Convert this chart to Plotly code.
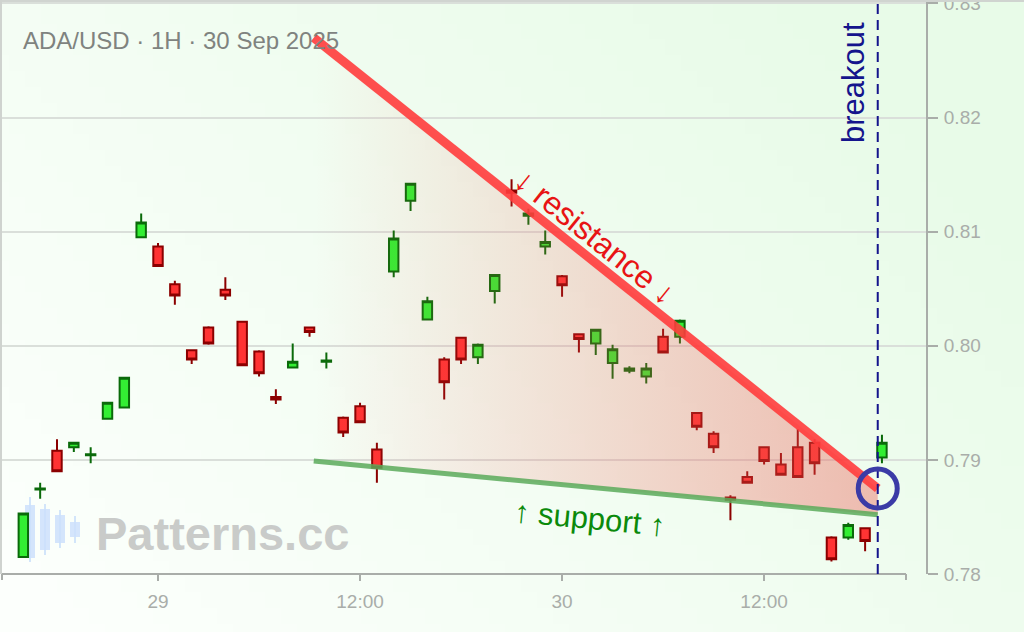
import plotly.graph_objects as go
import pandas as pd
import zlib, struct, base64

# ---------------- data ----------------
start_time = '2025-09-28 16:00'
opens = [0.7815, 0.7874, 0.7908, 0.7911, 0.7904, 0.7936, 0.7946, 0.8095, 0.8087, 0.8054,
         0.7996, 0.8016, 0.8049, 0.8021, 0.7995, 0.7955, 0.7981, 0.8016, 0.7986, 0.7937,
         0.7947, 0.7909, 0.8065, 0.8127, 0.8023, 0.7988, 0.8007, 0.7990, 0.8048, 0.8136,
         0.8114, 0.8087, 0.8061, 0.8010, 0.8002, 0.7985, 0.7978, 0.7973, 0.8008, 0.8008,
         0.7941, 0.7923, 0.7867, 0.7885, 0.7911, 0.7896, 0.7911, 0.7915, 0.7832, 0.7832,
         0.7840, 0.7902]
highs = [0.7854, 0.7880, 0.7918, 0.7915, 0.7911, 0.7950, 0.7972, 0.8116, 0.8090, 0.8057,
         0.7997, 0.8017, 0.8060, 0.8022, 0.7996, 0.7962, 0.8002, 0.8016, 0.7994, 0.7938,
         0.7950, 0.7915, 0.8101, 0.8142, 0.8043, 0.7990, 0.8008, 0.8002, 0.8063, 0.8146,
         0.8120, 0.8101, 0.8062, 0.8011, 0.8015, 0.8001, 0.7982, 0.7985, 0.8015, 0.8023,
         0.7942, 0.7925, 0.7869, 0.7890, 0.7912, 0.7906, 0.7927, 0.7918, 0.7833, 0.7845,
         0.7841, 0.7922]
lows = [0.7815, 0.7866, 0.7890, 0.7907, 0.7897, 0.7936, 0.7946, 0.8095, 0.8069, 0.8036,
        0.7984, 0.8001, 0.8040, 0.7982, 0.7973, 0.7949, 0.7980, 0.8008, 0.7980, 0.7920,
        0.7933, 0.7880, 0.8060, 0.8118, 0.8023, 0.7953, 0.7984, 0.7984, 0.8037, 0.8122,
        0.8106, 0.8080, 0.8043, 0.7994, 0.7992, 0.7971, 0.7976, 0.7967, 0.7994, 0.8002,
        0.7926, 0.7906, 0.7847, 0.7879, 0.7896, 0.7886, 0.7885, 0.7887, 0.7811, 0.7830,
        0.7820, 0.7897]
closes = [0.7853, 0.7875, 0.7890, 0.7915, 0.7905, 0.7950, 0.7972, 0.8108, 0.8070, 0.8044,
          0.7988, 0.8002, 0.8044, 0.7983, 0.7976, 0.7953, 0.7986, 0.8012, 0.7987, 0.7924,
          0.7933, 0.7893, 0.8094, 0.8142, 0.8039, 0.7968, 0.7988, 0.8001, 0.8062, 0.8134,
          0.8116, 0.8091, 0.8053, 0.8006, 0.8014, 0.7997, 0.7980, 0.7980, 0.7994, 0.8022,
          0.7929, 0.7911, 0.7865, 0.7880, 0.7899, 0.7887, 0.7885, 0.7897, 0.7813, 0.7843,
          0.7829, 0.7915]

pattern_times = ['2025-09-29 09:15', '2025-09-30 18:45']
resistance = [0.8270, 0.7875]
support = [0.7899, 0.7852]
breakout_time = '2025-09-30 18:45'
breakout_price = 0.7875

x_tickvals = ['2025-09-29 00:00', '2025-09-29 12:00', '2025-09-30 00:00', '2025-09-30 12:00']
x_ticktext = ['29', '12:00', '30', '12:00']
x_range = ['2025-09-28 14:44', '2025-09-30 21:37']
y_range = [0.78, 0.8303]

title_text = 'ADA/USD · 1H · 30 Sep 2025'

times = pd.date_range(start_time, periods=len(opens), freq='h')

# ---------------- layout geometry ----------------
W, H = 1024, 632
ML, MR, MT, MB = 2, 98, 0, 58
PW, PH = W - ML - MR, H - MT - MB


def px(xp):
    return (xp - ML) / PW


def py(yp):
    return 1 - (yp - MT) / PH


# ---------------- background gradient image ----------------
def gradient_png(w, h):
    c0 = (252, 255, 252)
    c1 = (232, 251, 232)
    raw = bytearray()
    for j in range(h):
        raw.append(0)
        v = j / (h - 1)
        for i in range(w):
            u = i / (w - 1)
            t = min(1.0, max(0.0, 0.75 * u + 0.45 * (1 - v) - 0.05))
            for k in range(3):
                raw.append(int(round(c0[k] + (c1[k] - c0[k]) * t)))

    def chunk(tag, data):
        return struct.pack('>I', len(data)) + tag + data + struct.pack('>I', zlib.crc32(tag + data) & 0xffffffff)
    png = b'\x89PNG\r\n\x1a\n'
    png += chunk(b'IHDR', struct.pack('>IIBBBBB', w, h, 8, 2, 0, 0, 0))
    png += chunk(b'IDAT', zlib.compress(bytes(raw), 9))
    png += chunk(b'IEND', b'')
    return 'data:image/png;base64,' + base64.b64encode(png).decode()


fig = go.Figure()

# wedge fill
fig.add_trace(go.Scatter(
    x=[pattern_times[0], pattern_times[1], pattern_times[1], pattern_times[0], pattern_times[0]],
    y=[resistance[0], resistance[1], support[1], support[0], resistance[0]],
    mode='lines', line=dict(width=0), fill='toself',
    fillgradient=dict(type='horizontal',
                      colorscale=[[0, 'rgba(240,90,80,0)'], [1, 'rgba(236,90,80,0.4)']]),
    hoverinfo='skip', showlegend=False))

# support / resistance lines
fig.add_trace(go.Scatter(x=pattern_times, y=support, mode='lines',
                         line=dict(color='rgba(90,170,90,0.85)', width=5),
                         hoverinfo='skip', showlegend=False))
fig.add_trace(go.Scatter(x=pattern_times, y=resistance, mode='lines',
                         line=dict(color='rgba(255,60,60,0.9)', width=9),
                         hoverinfo='skip', showlegend=False))

# candles
fig.add_trace(go.Candlestick(
    x=times, open=opens, high=highs, low=lows, close=closes,
    increasing=dict(line=dict(color='#0a6a0a', width=2), fillcolor='#33ee33'),
    decreasing=dict(line=dict(color='#8b0000', width=2), fillcolor='#ff3333'),
    whiskerwidth=0, showlegend=False))

shapes = []
axis_col = '#a9ada9'
shapes.append(dict(type='line', xref='paper', yref='paper', x0=px(2), x1=px(906), y0=0, y1=0,
                   line=dict(color=axis_col, width=2), layer='above'))
for xe in (2, 906):
    shapes.append(dict(type='line', xref='paper', yref='paper', x0=px(xe), x1=px(xe),
                       y0=0, y1=py(580), line=dict(color=axis_col, width=2), layer='above'))
shapes.append(dict(type='line', xref='paper', yref='paper', x0=px(0), x1=px(1024), y0=py(1), y1=py(1),
                   line=dict(color='#d0d4d0', width=2), layer='above'))
shapes.append(dict(type='line', xref='paper', yref='paper', x0=px(1), x1=px(1), y0=py(0), y1=0,
                   line=dict(color='#cfd3cf', width=2), layer='above'))

# watermark logo candles
logo = [(30, 505, 558, 497, 562), (45, 509, 550, 504, 555), (60, 515, 543, 510, 548), (75, 522, 537, 516, 543)]
for cx, bt, bb, wt, wb in logo:
    shapes.append(dict(type='line', xref='paper', yref='paper', x0=px(cx), x1=px(cx), y0=py(wt), y1=py(wb),
                       line=dict(color='rgba(200,222,250,0.8)', width=2), layer='between'))
    shapes.append(dict(type='rect', xref='paper', yref='paper', x0=px(cx - 5), x1=px(cx + 5), y0=py(bt), y1=py(bb),
                       fillcolor='rgba(205,225,252,0.85)', line=dict(width=0), layer='between'))

# breakout dashed line
shapes.append(dict(type='line', xref='x', yref='paper', x0=breakout_time, x1=breakout_time, y0=0, y1=1,
                   line=dict(color='#14148c', width=2, dash='10px,6px'), layer='above'))
# breakout circle
shapes.append(dict(type='circle', xref='x', yref='y', xsizemode='pixel', ysizemode='pixel',
                   xanchor=breakout_time, yanchor=breakout_price,
                   x0=-19.5, x1=19.5, y0=-19.5, y1=19.5,
                   line=dict(color='#3b3ba6', width=5), fillcolor='rgba(0,0,0,0)', layer='above'))

FONT = 'Liberation Sans, Arial'
annotations = [
    dict(text=title_text, xref='paper', yref='paper', x=px(21), y=py(41), xanchor='left', yanchor='middle',
         showarrow=False, font=dict(family=FONT, size=24, color='#7f837f')),
    dict(text='↓ resistance ↓', xref='x', yref='y', x='2025-09-30 01:58', y=0.8095, textangle=38.7,
         xanchor='center', yanchor='middle',
         showarrow=False, font=dict(family=FONT, size=32, color='#e81414')),
    dict(text='↑ support ↑', xref='x', yref='y', x='2025-09-30 01:40', y=0.7849, textangle=5.5,
         xanchor='center', yanchor='middle',
         showarrow=False, font=dict(family=FONT, size=31, color='#0b8a0b')),
    dict(text='breakout', xref='x', yref='paper', x='2025-09-30 17:17', y=py(83), textangle=-90,
         xanchor='center', yanchor='middle',
         showarrow=False, font=dict(family=FONT, size=31, color='#14148c')),
    dict(text='<b>Patterns.cc</b>', xref='paper', yref='paper', x=px(94), y=py(533), xanchor='left',
         yanchor='middle', showarrow=False,
         font=dict(family=FONT, size=47, color='#c9cbc9')),
]

fig.update_layout(
    width=W, height=H,
    margin=dict(l=ML, r=MR, t=MT, b=MB, autoexpand=False),
    paper_bgcolor='#eefbee', plot_bgcolor='rgba(0,0,0,0)',
    images=[dict(source=gradient_png(64, 40), xref='paper', yref='paper',
                 x=px(0), y=py(0), sizex=W / PW, sizey=H / PH, xanchor='left', yanchor='top',
                 sizing='stretch', layer='below')],
    boxgap=0.2,
    showlegend=False,
    shapes=shapes,
    annotations=annotations,
    xaxis=dict(type='date', range=x_range, rangeslider=dict(visible=False),
               showgrid=False, zeroline=False, showline=False, automargin=False,
               tickmode='array', tickvals=x_tickvals, ticktext=x_ticktext,
               ticks='outside', ticklen=6, tickwidth=2, tickcolor=axis_col,
               ticklabelstandoff=4,
               tickfont=dict(family=FONT, size=19, color='#a9ada9')),
    yaxis=dict(range=y_range, side='right', dtick=0.01, tickformat='.2f',
               showgrid=True, gridcolor='#dadfda', gridwidth=2, zeroline=False,
               showline=True, linecolor=axis_col, linewidth=2, automargin=False,
               ticks='outside', ticklen=10, tickwidth=2, tickcolor=axis_col,
               ticklabelstandoff=2, ticklabeloverflow='allow',
               tickfont=dict(family=FONT, size=19, color='#a9ada9')),
    hovermode=False,
)

fig.write_html('out.html', config={'displayModeBar': False},
               post_script="document.body.style.margin='0px';document.body.style.padding='0px';")
